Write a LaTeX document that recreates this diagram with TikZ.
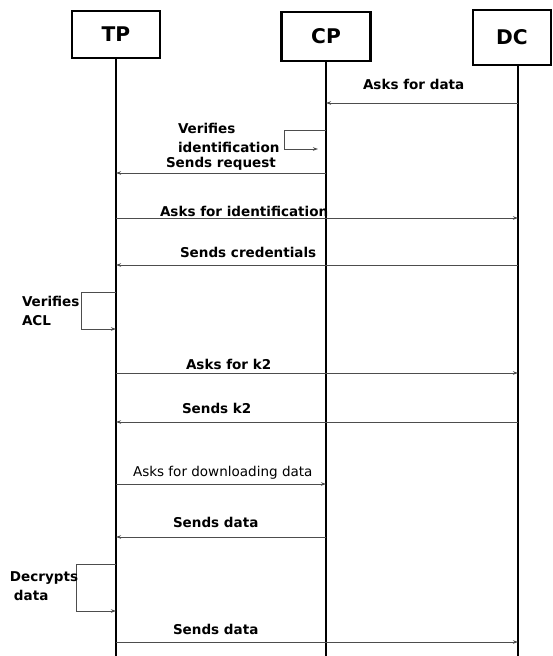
\documentclass[tikz,border=0pt]{standalone}
\usepackage{fontspec}
\setmainfont{DejaVu Sans}
\usetikzlibrary{arrows.meta}
\definecolor{c4d4d4d}{RGB}{77,77,77}
\def \globalscale {1.000000}

\begin{document}
\begin{tikzpicture}[y=-0.02cm, x=0.02cm, yscale=\globalscale,xscale=\globalscale, every node/.append style={scale=\globalscale}, inner sep=0pt, outer sep=0pt,
  actor/.style={draw=black, line width=0.045cm, font=\fontsize{11.5}{13}\selectfont\bfseries},
  lifeline/.style={draw=black, line width=0.05cm},
  msg/.style={draw=c4d4d4d, line width=0.02cm, -{Stealth[length=0.1cm,width=0.07cm]}},
  lbl/.style={text=black, anchor=west, align=left, font=\fontsize{7.7}{10.8}\selectfont\bfseries}]
  \useasboundingbox (0, 0) rectangle (552, 656);



  \node[actor, minimum width=1.76cm, minimum height=0.94cm] (rect-tp) at (116, 34.5){TP};



  \node[actor, minimum width=1.78cm, minimum height=0.98cm] (rect-cp) at (326, 36.5){CP};



  \node[actor, minimum width=1.56cm, minimum height=1.1cm] (rect-dc) at (512, 37.5){DC};



  \coordinate (end-tp) at (116, 656);
  \coordinate (end-cp) at (326, 656);
  \coordinate (end-dc) at (518, 656);



  \path[lifeline] (rect-tp.south) -- (end-tp);



  \path[lifeline] (rect-cp.south) -- (end-cp);



  \path[lifeline] (rect-dc.south -| end-dc) -- (end-dc);



  % points on the lifelines
  \coordinate (dc-1) at (518, 103);
  \coordinate (cp-1) at (326, 103);
  \coordinate (cp-2) at (326, 130);
  \coordinate (cp-3) at (318, 149);
  \coordinate (cp-4) at (326, 173);
  \coordinate (tp-4) at (116, 173);
  \coordinate (tp-5) at (116, 218);
  \coordinate (dc-5) at (518, 218);
  \coordinate (dc-6) at (518, 265);
  \coordinate (tp-6) at (116, 265);
  \coordinate (tp-7) at (116, 292);
  \coordinate (tp-8) at (116, 329);
  \coordinate (tp-9) at (116, 373);
  \coordinate (dc-9) at (518, 373);
  \coordinate (dc-10) at (518, 422);
  \coordinate (tp-10) at (116, 422);
  \coordinate (tp-11) at (116, 484);
  \coordinate (cp-11) at (326, 484);
  \coordinate (cp-12) at (326, 537);
  \coordinate (tp-12) at (116, 537);
  \coordinate (tp-13) at (116, 564);
  \coordinate (tp-14) at (116, 611);
  \coordinate (tp-15) at (116, 642);
  \coordinate (dc-15) at (518, 642);



  \path[msg] (dc-1) -- (cp-1);



  \path[msg] (cp-2) -- ++(-42, 0) |- (cp-3);



  \path[msg] (cp-4) -- (tp-4);



  \path[msg] (tp-5) -- (dc-5);



  \path[msg] (dc-6) -- (tp-6);



  \path[msg] (tp-7) -- ++(-35, 0) |- (tp-8);



  \path[msg] (tp-9) -- (dc-9);



  \path[msg] (dc-10) -- (tp-10);



  \path[msg] (tp-11) -- (cp-11);



  \path[msg] (cp-12) -- (tp-12);



  \path[msg] (tp-13) -- ++(-40, 0) |- (tp-14);



  \path[msg] (tp-15) -- (dc-15);



  \node[lbl] (text-asks-data) at (363, 84){Asks for data};



  \node[lbl] (text-verifies-id) at (178, 137.5){Verifies\\identification};



  \node[lbl] (text-sends-request) at (166, 164){Sends request};



  \node[lbl] (text-asks-id) at (160, 211){Asks for identification};



  \node[lbl] (text-sends-cred) at (180, 252){Sends credentials};



  \node[lbl] (text-verifies-acl) at (22, 310.5){Verifies\\ACL};



  \node[lbl] (text-asks-k2) at (186, 364){Asks for k2};



  \node[lbl] (text-sends-k2) at (182, 408){Sends k2};



  \node[lbl, font=\fontsize{7.7}{10.8}\selectfont\mdseries] (text-asks-dl) at (133, 473){Asks for downloading data};



  \node[lbl] (text-sends-data) at (173, 522){Sends data};



  \node[lbl] (text-decrypts) at (10, 586){Decrypts\\\hspace*{0.08cm}data};



  \node[lbl] (text-sends-data-2) at (173, 629){Sends data};




\end{tikzpicture}
\end{document}
